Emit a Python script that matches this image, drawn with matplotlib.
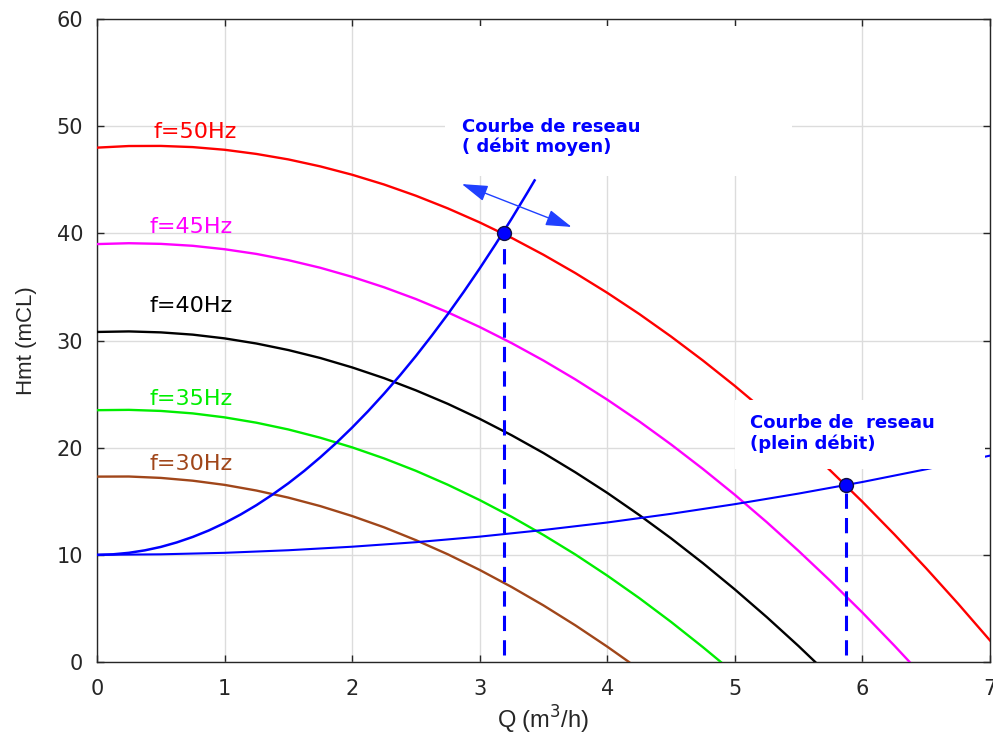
import matplotlib
matplotlib.use("Agg")
import matplotlib.pyplot as plt
from matplotlib.patches import Rectangle

# ---- data ----
q_50 = [0, 0.25, 0.5, 0.75, 1, 1.25, 1.5, 1.75, 2, 2.25, 2.5, 2.75, 3, 3.25, 3.5,
        3.75, 4, 4.25, 4.5, 4.75, 5, 5.25, 5.5, 5.75, 6, 6.25, 6.5, 6.75, 7]
h_50 = [48.00, 48.15, 48.16, 48.05, 47.80, 47.41, 46.90, 46.25, 45.47, 44.56, 43.51,
        42.33, 41.02, 39.58, 38.00, 36.29, 34.45, 32.48, 30.37, 28.13, 25.76, 23.26,
        20.62, 17.85, 14.95, 11.91, 8.74, 5.44, 2.01]

q_45 = [0, 0.25, 0.5, 0.75, 1, 1.25, 1.5, 1.75, 2, 2.25, 2.5, 2.75, 3, 3.25, 3.5,
        3.75, 4, 4.25, 4.5, 4.75, 5, 5.25, 5.5, 5.75, 6, 6.25, 6.37]
h_45 = [39.00, 39.08, 39.02, 38.84, 38.52, 38.08, 37.50, 36.79, 35.94, 34.97, 33.87,
        32.63, 31.26, 29.76, 28.13, 26.37, 24.48, 22.46, 20.30, 18.01, 15.60, 13.05,
        10.36, 7.55, 4.61, 1.53, 0.0]

q_40 = [0, 0.25, 0.5, 0.75, 1, 1.25, 1.5, 1.75, 2, 2.25, 2.5, 2.75, 3, 3.25, 3.5,
        3.75, 4, 4.25, 4.5, 4.75, 5, 5.25, 5.5, 5.63]
h_40 = [30.80, 30.85, 30.76, 30.55, 30.20, 29.72, 29.11, 28.37, 27.49, 26.49, 25.35,
        24.09, 22.69, 21.16, 19.50, 17.70, 15.78, 13.72, 11.54, 9.22, 6.77, 4.19,
        1.48, 0.0]

q_35 = [0, 0.25, 0.5, 0.75, 1, 1.25, 1.5, 1.75, 2, 2.25, 2.5, 2.75, 3, 3.25, 3.5,
        3.75, 4, 4.25, 4.5, 4.75, 4.89]
h_35 = [23.50, 23.53, 23.43, 23.20, 22.83, 22.33, 21.70, 20.93, 20.03, 19.00, 17.84,
        16.54, 15.11, 13.55, 11.85, 10.03, 8.06, 5.97, 3.74, 1.38, 0.0]

q_30 = [0, 0.25, 0.5, 0.75, 1, 1.25, 1.5, 1.75, 2, 2.25, 2.5, 2.75, 3, 3.25, 3.5,
        3.75, 4, 4.17]
h_30 = [17.30, 17.31, 17.18, 16.92, 16.53, 16.00, 15.34, 14.55, 13.62, 12.57, 11.37,
        10.05, 8.59, 7.00, 5.28, 3.42, 1.43, 0.0]

q_net_moy = [0, 0.125, 0.25, 0.375, 0.5, 0.625, 0.75, 0.875, 1, 1.125, 1.25, 1.375,
             1.5, 1.625, 1.75, 1.875, 2, 2.125, 2.25, 2.375, 2.5, 2.625, 2.75, 2.875,
             3, 3.125, 3.25, 3.375, 3.43]
h_net_moy = [10.00, 10.05, 10.19, 10.42, 10.74, 11.16, 11.67, 12.27, 12.97, 13.76,
             14.64, 15.62, 16.68, 17.84, 19.10, 20.44, 21.88, 23.41, 25.04, 26.75,
             28.56, 30.47, 32.46, 34.55, 36.73, 39.00, 41.37, 43.83, 44.94]

q_net_plein = [0, 0.5, 1, 1.5, 2, 2.5, 3, 3.5, 4, 4.5, 5, 5.5, 6, 6.5, 7]
h_net_plein = [10.00, 10.05, 10.19, 10.43, 10.76, 11.18, 11.70, 12.32, 13.02, 13.83,
               14.73, 15.72, 16.80, 17.99, 19.26]

op_q = [3.19, 5.87]
op_h = [40.0, 16.5]

freq_labels = ["f=50Hz", "f=45Hz", "f=40Hz", "f=35Hz", "f=30Hz"]
freq_colors = ["#ff0000", "#ff00ff", "#000000", "#00ee00", "#a0461a"]
label_pos_q = [0.77, 0.74, 0.74, 0.74, 0.74]
label_pos_h = [49.5, 40.6, 33.2, 24.5, 18.5]

x_ticks = [0, 1, 2, 3, 4, 5, 6, 7]
y_ticks = [0, 10, 20, 30, 40, 50, 60]

# ---- figure ----
fig = plt.figure(figsize=(9.93, 7.35), dpi=100)
ax = fig.add_axes([0.0977, 0.0993, 0.8993, 0.8748])

tick_font = ["DejaVu Sans"]
txt_font = ["DejaVu Sans"]
lab_font = ["Liberation Sans", "DejaVu Sans"]

curves = [(q_50, h_50), (q_45, h_45), (q_40, h_40), (q_35, h_35), (q_30, h_30)]
for (qq, hh), col in zip(curves, freq_colors):
    ax.plot(qq, hh, color=col, lw=1.7, zorder=3, solid_joinstyle="round")

ax.plot(q_net_moy, h_net_moy, color="#0000ff", lw=1.8, zorder=3, solid_joinstyle="round")
ax.plot(q_net_plein, h_net_plein, color="#0000ff", lw=1.5, zorder=3, solid_joinstyle="round")

for qv, hv in zip(op_q, op_h):
    ax.plot([qv, qv], [0.7, hv], color="#0000ff", lw=2.2, ls=(0, (5, 3)), zorder=3)
ax.plot(op_q, op_h, "o", color="#0000ff", markeredgecolor="#101040",
        markersize=10, zorder=5)

for lab, col, lq, lh in zip(freq_labels, freq_colors, label_pos_q, label_pos_h):
    ax.text(lq, lh, lab, color=col, fontsize=16, ha="center", va="center",
            family=txt_font, zorder=6)

# white masking boxes behind the annotations
ax.add_patch(Rectangle((0.39, 0.756), 0.388, 0.233, transform=ax.transAxes,
                       facecolor="white", edgecolor="none", zorder=4))
ax.add_patch(Rectangle((0.714, 0.300), 0.28, 0.107, transform=ax.transAxes,
                       facecolor="white", edgecolor="none", zorder=4))

ax.text(2.86, 49.0, "Courbe de reseau\n( débit moyen)", color="#0000ff",
        fontsize=13, fontweight="bold", ha="left", va="center",
        family=txt_font, linespacing=1.15, zorder=6)
ax.text(5.12, 21.3, "Courbe de  reseau\n(plein débit)", color="#0000ff",
        fontsize=13, fontweight="bold", ha="left", va="center",
        family=txt_font, linespacing=1.15, zorder=6)

ax.annotate("", xy=(2.86, 44.6), xytext=(3.72, 40.6),
            arrowprops=dict(arrowstyle="<|-|>,head_length=1.6,head_width=0.5",
                            color="#2040ff", lw=1.0, shrinkA=0, shrinkB=0),
            zorder=6)

ax.set_xlim(0, 7)
ax.set_ylim(0, 60)
ax.set_xticks(x_ticks)
ax.set_yticks(y_ticks)
ax.grid(True, color="#dcdcdc", lw=1.0, zorder=0)
ax.set_axisbelow(True)
ax.tick_params(direction="in", top=True, right=True, length=5, width=1,
               colors="#262626", labelsize=15)
ax.tick_params(axis="x", pad=12)
ax.tick_params(axis="y", pad=10)
for lab in ax.get_xticklabels() + ax.get_yticklabels():
    lab.set_family(tick_font)
for sp in ax.spines.values():
    sp.set_color("#262626")
    sp.set_linewidth(1.0)

ax.set_xlabel("Q (m$^3$/h)", fontsize=17, color="#262626", family=lab_font, labelpad=4)
ax.set_ylabel("Hmt (mCL)", fontsize=16, color="#262626", family=lab_font, labelpad=14)

fig.savefig("out.png", dpi=100, facecolor="white")
